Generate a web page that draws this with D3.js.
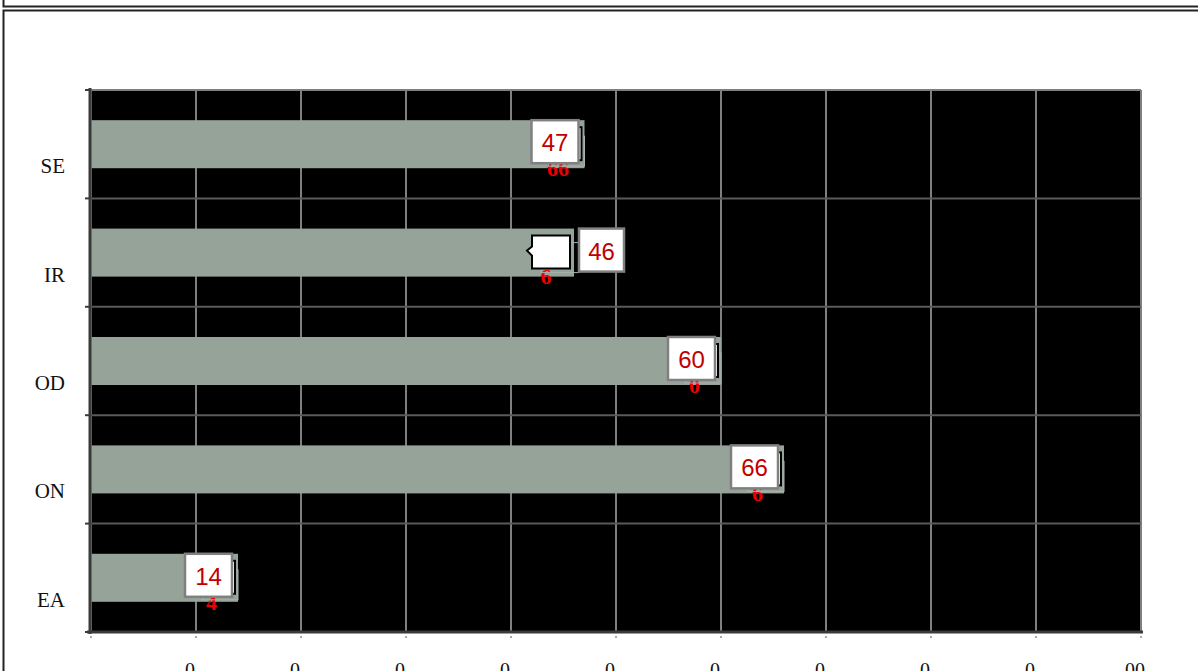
<!DOCTYPE html>
<html>
<head>
<meta charset="utf-8">
<script src="https://cdn.jsdelivr.net/npm/d3@7/dist/d3.min.js"></script>
<style>
html,body{margin:0;padding:0;background:#fff;overflow:hidden;}
svg{display:block;}
</style>
</head>
<body>
<svg id="chart" width="1198" height="671"></svg>
<script>
// ---- data ----
const categories = ["SE", "IR", "OD", "ON", "EA"];
const values = [47, 46, 60, 66, 14];
const labelTexts = ["47", "46", "60", "66", "14"];
const ghostTexts = ["66", "6", "0", "6", "4"];
const tickValues = [10, 20, 30, 40, 50, 60, 70, 80, 90, 100];
const tickLabels = ["0", "0", "0", "0", "0", "0", "0", "0", "0", "00"];
const gridValues = [0, 10, 20, 30, 40, 50, 60, 70, 80, 90, 100];

(function () {
const svg = d3.select("#chart");

// outer frames
svg.append("rect").attr("x", 3.5).attr("y", -60).attr("width", 1300).attr("height", 66.5)
  .attr("fill", "none").attr("stroke", "#222").attr("stroke-width", 2);
svg.append("rect").attr("x", 3.5).attr("y", 10.5).attr("width", 1300).attr("height", 700)
  .attr("fill", "none").attr("stroke", "#222").attr("stroke-width", 2);

const pL = 91, pR = 1141, pT = 90, pB = 632;
const x = d3.scaleLinear().domain([0, 100]).range([pL, pR]);
const y = d3.scaleBand().domain(categories).range([pT, pB]).padding(0);
const barH = y.bandwidth() * 0.443;

// plot background
svg.append("rect").attr("x", pL).attr("y", pT).attr("width", pR - pL).attr("height", pB - pT)
  .attr("fill", "#000");

// vertical gridlines
svg.append("g").selectAll("line").data(gridValues).join("line")
  .attr("x1", d => x(d)).attr("x2", d => x(d))
  .attr("y1", pT).attr("y2", pB)
  .attr("stroke", "#7f7f7f").attr("stroke-width", 2);

// horizontal separators
svg.append("g").selectAll("line").data(categories.slice(1)).join("line")
  .attr("x1", pL).attr("x2", pR)
  .attr("y1", d => y(d)).attr("y2", d => y(d))
  .attr("stroke", "#5a5a5a").attr("stroke-width", 2);

// top border
svg.append("line").attr("x1", pL).attr("x2", pR).attr("y1", pT).attr("y2", pT)
  .attr("stroke", "#7f7f7f").attr("stroke-width", 2);

// bars
svg.append("g").selectAll("rect").data(categories).join("rect")
  .attr("x", x(0))
  .attr("y", d => y(d) + (y.bandwidth() - barH) / 2)
  .attr("width", (d, i) => x(values[i]) - x(0))
  .attr("height", barH)
  .attr("fill", "#95a399");

// axes
svg.append("line").attr("x1", pL - 1).attr("x2", pL - 1).attr("y1", pT - 2).attr("y2", pB + 2)
  .attr("stroke", "#3a3a3a").attr("stroke-width", 3);
svg.append("line").attr("x1", pL - 4).attr("x2", pR + 2).attr("y1", pB).attr("y2", pB)
  .attr("stroke", "#3a3a3a").attr("stroke-width", 3);

// left ticks at band boundaries
const bounds = categories.map(c => y(c)).concat([pB]);
svg.append("g").selectAll("line").data(bounds).join("line")
  .attr("x1", pL - 6).attr("x2", pL).attr("y1", d => d).attr("y2", d => d)
  .attr("stroke", "#3a3a3a").attr("stroke-width", 2);

// bottom tiny ticks
svg.append("g").selectAll("line").data(gridValues).join("line")
  .attr("x1", d => x(d)).attr("x2", d => x(d)).attr("y1", pB + 4).attr("y2", pB + 6)
  .attr("stroke", "#555").attr("stroke-width", 1);

// category labels
svg.append("g").selectAll("text").data(categories).join("text")
  .attr("x", 65)
  .attr("y", d => y(d) + y.bandwidth() / 2 + 29)
  .attr("text-anchor", "end")
  .attr("font-family", "Liberation Serif, Times New Roman, serif")
  .attr("font-size", 21)
  .attr("fill", "#111")
  .text(d => d);

// x tick labels (clipped by the bottom edge as in the reference)
svg.append("g").selectAll("text").data(tickValues).join("text")
  .attr("x", d => x(d) - 6)
  .attr("y", 677)
  .attr("text-anchor", "middle")
  .attr("font-family", "Liberation Serif, Times New Roman, serif")
  .attr("font-size", 20)
  .attr("fill", "#111")
  .text((d, i) => tickLabels[i]);

// data labels
const bw = 47, bh = 43;
categories.forEach((c, i) => {
  const g = svg.append("g");
  const barTop = y(c) + (y.bandwidth() - barH) / 2;
  const end = x(values[i]);
  if (c === "IR") {
    const cx = end - 42, cy = barTop + 7;
    g.append("text").attr("x", cx + 14).attr("y", cy + 48)
      .attr("text-anchor", "middle").attr("font-family", "Liberation Serif, serif")
      .attr("font-weight", "bold").attr("font-size", 22).attr("fill", "#e00").text(ghostTexts[i]);
    g.append("rect").attr("x", cx + 9).attr("y", cy + 7).attr("width", 38).attr("height", 30)
      .attr("fill", "none").attr("stroke", "#aab2ad").attr("stroke-width", 1);
    const w = 38, h = 33;
    const path = `M${cx},${cy} H${cx + w} V${cy + h} H${cx} V${cy + 20} L${cx - 5},${cy + 15} L${cx},${cy + 11} Z`;
    g.append("path").attr("d", path).attr("fill", "#fff").attr("stroke", "#000").attr("stroke-width", 2);
    const bx = end + 5;
    g.append("rect").attr("x", bx).attr("y", barTop).attr("width", 45).attr("height", bh)
      .attr("fill", "#fff").attr("stroke", "#808080").attr("stroke-width", 2.5);
    g.append("text").attr("x", bx + 22.5).attr("y", barTop + 31)
      .attr("text-anchor", "middle").attr("font-family", "Liberation Sans, Arial, sans-serif")
      .attr("font-size", 24).attr("fill", "#c00000").text(labelTexts[i]);
  } else {
    const bxR = end - 6, bx = bxR - bw;
    g.append("text").attr("x", bx + bw / 2 + 3).attr("y", barTop + bh + 13)
      .attr("text-anchor", "middle").attr("font-family", "Liberation Serif, serif")
      .attr("font-weight", "bold").attr("font-size", 22).attr("fill", "#e00").text(ghostTexts[i]);
    g.append("rect").attr("x", bxR - 30).attr("y", barTop + 16).attr("width", 36).attr("height", 30)
      .attr("fill", "none").attr("stroke", "#aab2ad").attr("stroke-width", 1);
    g.append("rect").attr("x", bxR - 6).attr("y", barTop + 7).attr("width", 9).attr("height", 33)
      .attr("fill", "#fff").attr("stroke", "#000").attr("stroke-width", 2);
    g.append("rect").attr("x", bx).attr("y", barTop).attr("width", bw).attr("height", bh)
      .attr("fill", "#fff").attr("stroke", "#808080").attr("stroke-width", 2.5);
    g.append("text").attr("x", bx + bw / 2).attr("y", barTop + 31)
      .attr("text-anchor", "middle").attr("font-family", "Liberation Sans, Arial, sans-serif")
      .attr("font-size", 24).attr("fill", "#c00000").text(labelTexts[i]);
  }
});
})();
</script>
</body>
</html>
